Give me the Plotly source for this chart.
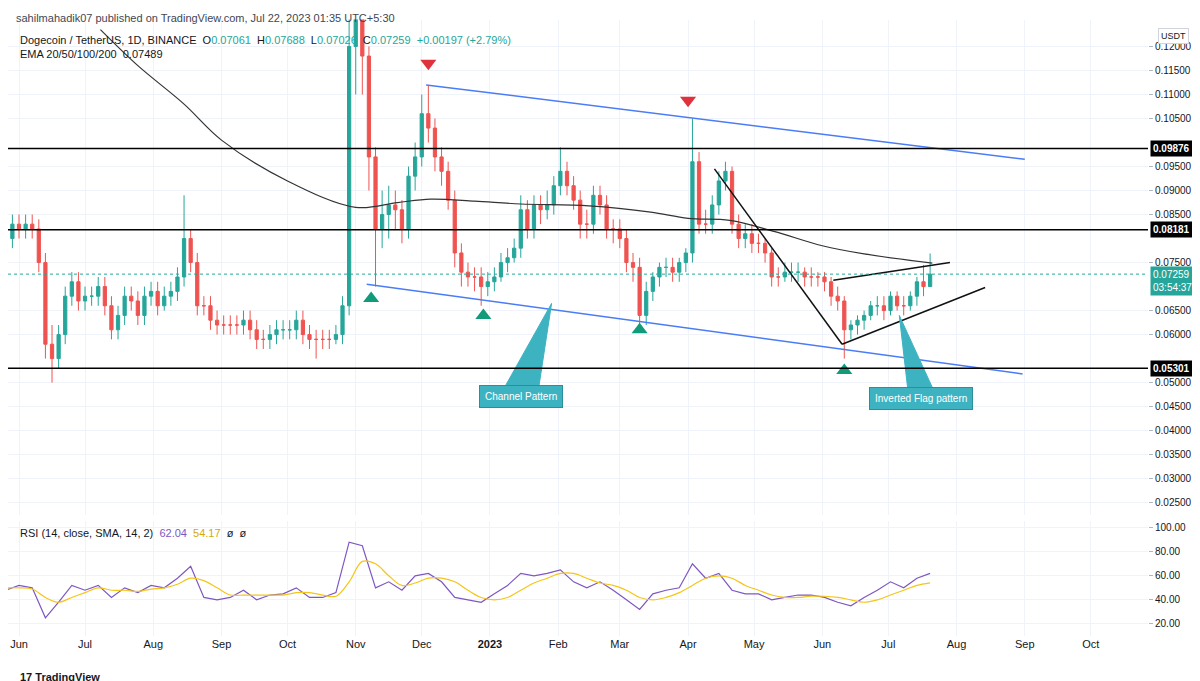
import datetime as dt
import plotly.graph_objects as go
from plotly.subplots import make_subplots

# daily candles sampled every 3 days from 2022-05-26
start = dt.date(2022, 5, 26)
close = [
    0.080, 0.083, 0.082, 0.083, 0.082, 0.075, 0.058, 0.055, 0.060, 0.068,
    0.071, 0.067, 0.068, 0.068, 0.070, 0.066, 0.061, 0.064, 0.068, 0.067,
    0.064, 0.068, 0.069, 0.066, 0.068, 0.069, 0.072, 0.080, 0.075, 0.066,
    0.066, 0.063, 0.062, 0.062, 0.062, 0.062, 0.063, 0.061, 0.059, 0.059,
    0.060, 0.061, 0.061, 0.061, 0.063, 0.060, 0.059, 0.059, 0.059, 0.059,
    0.060, 0.066, 0.120, 0.126, 0.118, 0.097, 0.082, 0.085, 0.087, 0.086,
    0.082, 0.093, 0.097, 0.106, 0.103, 0.097, 0.094, 0.088, 0.077, 0.073,
    0.072, 0.072, 0.070, 0.071, 0.072, 0.075, 0.076, 0.078, 0.086, 0.082,
    0.087, 0.086, 0.087, 0.091, 0.094, 0.091, 0.088, 0.083, 0.083, 0.089,
    0.087, 0.082, 0.082, 0.080, 0.075, 0.074, 0.064, 0.069, 0.072, 0.074,
    0.074, 0.073, 0.075, 0.077, 0.096, 0.083, 0.083, 0.087, 0.092, 0.094,
    0.083, 0.080, 0.081, 0.079, 0.079, 0.077, 0.072, 0.072, 0.073, 0.073,
    0.073, 0.072, 0.072, 0.072, 0.071, 0.068, 0.067, 0.061, 0.062, 0.063,
    0.064, 0.066, 0.066, 0.065, 0.068, 0.066, 0.066, 0.068, 0.071, 0.070,
    0.07259,
]
high = [
    0.083, 0.085, 0.085, 0.085, 0.085, 0.084, 0.077, 0.062, 0.062, 0.070,
    0.073, 0.073, 0.070, 0.070, 0.072, 0.072, 0.068, 0.066, 0.070, 0.070,
    0.069, 0.070, 0.071, 0.071, 0.070, 0.071, 0.074, 0.089, 0.082, 0.077,
    0.068, 0.068, 0.065, 0.064, 0.064, 0.064, 0.065, 0.065, 0.063, 0.061,
    0.062, 0.063, 0.063, 0.063, 0.065, 0.065, 0.062, 0.061, 0.061, 0.061,
    0.062, 0.068, 0.130, 0.150, 0.135, 0.120, 0.099, 0.090, 0.091, 0.090,
    0.088, 0.095, 0.100, 0.110, 0.112, 0.105, 0.099, 0.096, 0.090, 0.079,
    0.075, 0.074, 0.074, 0.073, 0.074, 0.077, 0.078, 0.080, 0.089, 0.088,
    0.089, 0.089, 0.090, 0.093, 0.099, 0.096, 0.093, 0.090, 0.086, 0.091,
    0.091, 0.089, 0.084, 0.084, 0.082, 0.077, 0.076, 0.071, 0.073, 0.075,
    0.076, 0.076, 0.076, 0.078, 0.105, 0.098, 0.086, 0.089, 0.094, 0.096,
    0.095, 0.085, 0.083, 0.083, 0.081, 0.080, 0.078, 0.074, 0.075, 0.075,
    0.075, 0.074, 0.074, 0.073, 0.073, 0.072, 0.070, 0.068, 0.063, 0.064,
    0.065, 0.067, 0.068, 0.068, 0.069, 0.069, 0.068, 0.069, 0.072, 0.0745,
    0.07688,
]
low = [
    0.078, 0.078, 0.080, 0.080, 0.080, 0.073, 0.055, 0.050, 0.053, 0.058,
    0.066, 0.065, 0.065, 0.066, 0.066, 0.064, 0.059, 0.059, 0.062, 0.065,
    0.062, 0.062, 0.066, 0.064, 0.065, 0.066, 0.067, 0.070, 0.073, 0.064,
    0.064, 0.061, 0.060, 0.060, 0.060, 0.060, 0.060, 0.059, 0.057, 0.057,
    0.057, 0.058, 0.059, 0.059, 0.059, 0.058, 0.057, 0.055, 0.057, 0.057,
    0.058, 0.058, 0.064, 0.110, 0.110, 0.090, 0.070, 0.078, 0.080, 0.082,
    0.079, 0.080, 0.090, 0.095, 0.100, 0.094, 0.091, 0.086, 0.074, 0.070,
    0.070, 0.069, 0.066, 0.068, 0.069, 0.071, 0.073, 0.075, 0.076, 0.080,
    0.080, 0.083, 0.084, 0.085, 0.089, 0.089, 0.086, 0.080, 0.080, 0.081,
    0.085, 0.080, 0.079, 0.078, 0.073, 0.071, 0.062, 0.062, 0.067, 0.070,
    0.072, 0.071, 0.071, 0.073, 0.075, 0.081, 0.081, 0.081, 0.085, 0.090,
    0.081, 0.078, 0.078, 0.077, 0.077, 0.075, 0.070, 0.070, 0.071, 0.071,
    0.071, 0.070, 0.070, 0.070, 0.069, 0.066, 0.065, 0.055, 0.059, 0.060,
    0.061, 0.063, 0.064, 0.063, 0.064, 0.065, 0.064, 0.065, 0.066, 0.068,
    0.07026,
]
dates = [start + dt.timedelta(days=3 * i) for i in range(len(close))]
opens = [0.081] + close[:-1]

ema_dates = ["2022-07-08", "2022-07-25", "2022-08-15", "2022-09-01", "2022-10-01", "2022-11-01",
             "2022-11-20", "2022-12-05", "2022-12-25", "2023-01-15", "2023-02-15", "2023-03-15",
             "2023-04-01", "2023-04-20", "2023-05-10", "2023-06-01", "2023-06-20", "2023-07-21"]
ema200 = [0.1235, 0.116, 0.108, 0.1005, 0.092, 0.0865, 0.0875, 0.0882, 0.0878, 0.0872, 0.0868, 0.0855,
          0.0842, 0.0838, 0.0815, 0.0785, 0.0768, 0.07489]

# RSI sampled every 6 days
rsi_start = dt.date(2022, 5, 26)
rsi = [48, 52, 50, 25, 38, 52, 48, 52, 42, 50, 46, 52, 50, 58, 68, 42, 40, 42, 48, 40,
       44, 45, 50, 42, 42, 46, 88, 85, 50, 55, 48, 60, 62, 55, 42, 40, 38, 45, 52, 62,
       60, 62, 65, 55, 50, 55, 48, 40, 32, 45, 48, 50, 70, 58, 62, 48, 45, 45, 40, 42,
       44, 44, 42, 38, 35, 42, 48, 55, 50, 58, 62.04]
rsi_sma = [50, 50, 49, 42, 38, 42, 46, 50, 48, 48, 47, 49, 50, 53, 58, 56, 50, 44, 44, 44,
           44, 44, 46, 46, 44, 43, 55, 72, 70, 60, 52, 54, 58, 58, 55, 48, 42, 40, 42, 48,
           54, 58, 62, 62, 58, 54, 52, 48, 42, 40, 42, 46, 52, 58, 60, 58, 52, 48, 44, 42,
           42, 43, 43, 42, 40, 38, 40, 44, 48, 52, 54.17]
rsi_dates = [rsi_start + dt.timedelta(days=6 * i) for i in range(len(rsi))]

levels = [0.09876, 0.08181, 0.05301]
last_price = 0.07259
# ticks hidden behind the level labels are left out
price_ticks = [0.025, 0.03, 0.035, 0.04, 0.045, 0.05, 0.06, 0.065, 0.075, 0.085, 0.09,
               0.095, 0.105, 0.11, 0.115, 0.12]

UP, DOWN = "#26a69a", "#ef5350"
BLUE = "#4a7cf7"
CALLOUT = "#3db3c1"

fig = make_subplots(rows=2, cols=1, shared_xaxes=True)

fig.add_trace(go.Candlestick(x=dates, open=opens, high=high, low=low, close=close,
                             increasing=dict(line=dict(color=UP, width=1), fillcolor=UP),
                             decreasing=dict(line=dict(color=DOWN, width=1), fillcolor=DOWN),
                             whiskerwidth=0, showlegend=False), row=1, col=1)
fig.add_trace(go.Scatter(x=ema_dates, y=ema200, mode="lines", line=dict(color="#333333", width=1.2, shape="spline"),
                         showlegend=False), row=1, col=1)

# channel and flag lines
lines = [
    (["2022-12-03", "2023-09-01"], [0.1120, 0.0965], BLUE),
    (["2022-11-06", "2023-08-31"], [0.0705, 0.0518], BLUE),
    (["2023-04-13", "2023-06-10"], [0.0945, 0.0580], "#111111"),
    (["2023-06-10", "2023-08-14"], [0.0580, 0.0698], "#111111"),
    (["2023-06-06", "2023-07-29"], [0.0713, 0.0750], "#111111"),
]
for xs, ys, c in lines:
    fig.add_trace(go.Scatter(x=xs, y=ys, mode="lines", line=dict(color=c, width=1.5), showlegend=False), row=1, col=1)

for lv in levels:
    fig.add_hline(y=lv, line=dict(color="#000000", width=1.5), row=1, col=1)
fig.add_hline(y=last_price, line=dict(color=UP, width=1, dash="dot"), row=1, col=1)

# arrows
fig.add_trace(go.Scatter(x=["2022-12-04", "2023-04-01"], y=[0.1165, 0.1088], mode="markers",
                         marker=dict(symbol="triangle-down", size=14, color="#e0323c"), showlegend=False), row=1, col=1)
fig.add_trace(go.Scatter(x=["2022-11-08", "2022-12-29", "2023-03-10", "2023-06-11"],
                         y=[0.0675, 0.0640, 0.0610, 0.0525], mode="markers",
                         marker=dict(symbol="triangle-up", size=14, color="#119b7a"), showlegend=False), row=1, col=1)

# callout pointers
fig.add_trace(go.Scatter(x=["2023-01-07", "2023-01-23", "2023-01-29", "2023-01-07"],
                         y=[0.0485, 0.0485, 0.0665, 0.0485], fill="toself", fillcolor=CALLOUT,
                         mode="lines", line=dict(color=CALLOUT, width=1), showlegend=False), row=1, col=1)
fig.add_trace(go.Scatter(x=["2023-07-10", "2023-07-22", "2023-07-06", "2023-07-10"],
                         y=[0.0480, 0.0480, 0.0640, 0.0480], fill="toself", fillcolor=CALLOUT,
                         mode="lines", line=dict(color=CALLOUT, width=1), showlegend=False), row=1, col=1)

# RSI panel
fig.add_hrect(y0=40, y1=60, fillcolor="rgba(126,87,194,0.1)", line_width=0, row=2, col=1)
for lv in [40, 60]:
    fig.add_hline(y=lv, line=dict(color="#b0a6c8", width=1, dash="dash"), row=2, col=1)
fig.add_hline(y=50, line=dict(color="#c8c0da", width=1, dash="dot"), row=2, col=1)
fig.add_trace(go.Scatter(x=rsi_dates, y=rsi, mode="lines", line=dict(color="#7e57c2", width=1.2),
                         showlegend=False), row=2, col=1)
fig.add_trace(go.Scatter(x=rsi_dates, y=rsi_sma, mode="lines", line=dict(color="#f5c518", width=1.2, shape="spline"),
                         showlegend=False), row=2, col=1)

grid = "#f0f3fa"
fig.update_xaxes(range=["2022-05-27", "2023-10-27"], showgrid=True, gridcolor=grid, rangeslider_visible=False,
                 tickvals=["2022-06-01", "2022-07-01", "2022-08-01", "2022-09-01", "2022-10-01", "2022-11-01",
                           "2022-12-01", "2023-01-01", "2023-02-01", "2023-03-01", "2023-04-01", "2023-05-01",
                           "2023-06-01", "2023-07-01", "2023-08-01", "2023-09-01", "2023-10-01"],
                 ticktext=["Jun", "Jul", "Aug", "Sep", "Oct", "Nov", "Dec", "<b>2023</b>", "Feb", "Mar", "Apr",
                           "May", "Jun", "Jul", "Aug", "Sep", "Oct"],
                 tickfont=dict(size=11, color="#131722"), showline=False, zeroline=False, domain=[0, 0.95])
fig.update_xaxes(showticklabels=False, row=1, col=1)
fig.update_yaxes(side="right", showgrid=True, gridcolor=grid, zeroline=False, tickfont=dict(size=10, color="#131722"),
                 ticks="outside", ticklen=4, tickcolor="#b2b5be")
fig.update_yaxes(range=[0.0225, 0.1256], tickvals=price_ticks, tickformat=".5f", domain=[0.256, 0.983], row=1, col=1)
fig.update_yaxes(range=[10, 105.8], tickvals=[20, 40, 60, 80, 100], tickformat=".2f", domain=[0.078, 0.247],
                 row=2, col=1)

fig.update_layout(
    width=1200, height=681, paper_bgcolor="white", plot_bgcolor="white",
    margin=dict(l=0, r=0, t=0, b=0),
    font=dict(family="Liberation Sans, Arial, sans-serif", size=11, color="#131722"),
)

ann = []
for lv in levels:
    ann.append(dict(xref="paper", yref="y", x=0.952, y=lv, xanchor="left", text=f"<b>{lv:.5f}</b>",
                    showarrow=False, bgcolor="#000000", font=dict(color="white", size=10), borderpad=2))
ann.append(dict(xref="paper", yref="y", x=0.952, y=last_price, xanchor="left", yanchor="top", yshift=8,
                text=f"{last_price:.5f}<br>03:54:37", showarrow=False, bgcolor=UP,
                font=dict(color="white", size=10), borderpad=2, align="left"))
ann.append(dict(xref="paper", yref="paper", x=0.958, y=1 - 20 / 681, xanchor="left", yanchor="top", text="USDT",
                showarrow=False, bordercolor="#d1d4dc", borderwidth=1, borderpad=2, bgcolor="white",
                font=dict(size=9)))
ann.append(dict(xref="paper", yref="paper", x=0.005, y=1.0, yshift=-2, xanchor="left", yanchor="top",
                text="sahilmahadik07 published on TradingView.com, Jul 22, 2023 01:35 UTC+5:30",
                showarrow=False, font=dict(size=11, color="#434651")))
ann.append(dict(xref="paper", yref="paper", x=0.008, y=1 - 24 / 681, xanchor="left", yanchor="top", align="left",
                text="Dogecoin / TetherUS, 1D, BINANCE  O<span style='color:#26a69a'>0.07061</span>  "
                     "H<span style='color:#26a69a'>0.07688</span>  L<span style='color:#26a69a'>0.07026</span>  "
                     "C<span style='color:#26a69a'>0.07259</span>  <span style='color:#26a69a'>+0.00197 (+2.79%)</span>"
                     "<br>EMA 20/50/100/200  0.07489",
                showarrow=False, font=dict(size=11, color="#131722")))
ann.append(dict(xref="paper", yref="paper", x=0.008, y=0.247, yshift=-4, xanchor="left", yanchor="top",
                text="RSI (14, close, SMA, 14, 2)  <span style='color:#7e57c2'>62.04</span>  "
                     "<span style='color:#d4a80a'>54.17</span>  ø  ø",
                showarrow=False, font=dict(size=11)))
ann.append(dict(x="2023-01-15", y=0.0472, xref="x", yref="y", text="Channel Pattern", showarrow=False,
                bgcolor=CALLOUT, bordercolor="#2a8f9b", borderwidth=1, borderpad=5, font=dict(color="white", size=10)))
ann.append(dict(x="2023-07-16", y=0.0467, xref="x", yref="y", text="Inverted Flag pattern", showarrow=False,
                bgcolor=CALLOUT, bordercolor="#2a8f9b", borderwidth=1, borderpad=5, font=dict(color="white", size=10)))
ann.append(dict(xref="paper", yref="paper", x=0.008, y=0, yshift=4, xanchor="left", yanchor="bottom",
                text="<b>17 TradingView</b>", showarrow=False, font=dict(size=11, color="#131722")))
fig.update_layout(annotations=ann)

fig.write_html("out.html")
